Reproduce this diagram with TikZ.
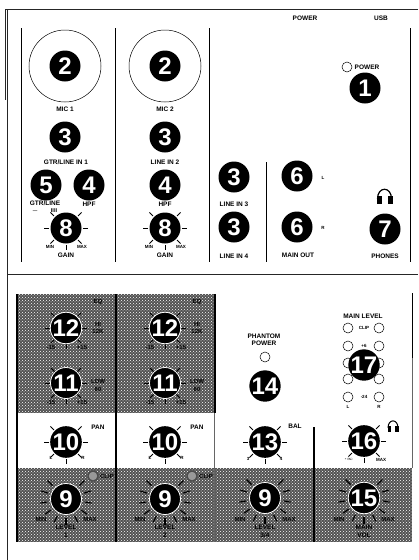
\documentclass[tikz,border=0pt]{standalone}
\usepackage{fontspec}
\setmainfont{Liberation Sans}
\usetikzlibrary{patterns,calc}
\tikzset{
 num/.style={circle,fill=black,minimum size=31pt,inner sep=0pt,text=white,font=\bfseries\fontsize{24}{24}\selectfont},
 numw/.style={num,draw=white,line width=0.8pt},
 lab/.style={inner sep=0pt,font=\bfseries\fontsize{6.5}{7.5}\selectfont,align=center,text=black},
 tiny/.style={inner sep=0pt,font=\bfseries\fontsize{4.5}{5}\selectfont,text=black},
 gtxt/.style={inner sep=0pt,font=\bfseries\fontsize{6}{6.5}\selectfont,text=black},
 led/.style={circle,draw=black,fill=white,line width=0.5pt,minimum size=10pt,inner sep=0pt},
 rule/.style={draw=black,line width=0.8pt},
 darkrule/.style={draw=black,line width=1.2pt},
 frameline/.style={draw=black!85,line width=1pt},
 graypanel/.style={fill=black!68},
 dotpanel/.style={pattern=crosshatch dots,pattern color=white},
}
\newcommand{\ticks}[3]{\foreach \a in {-135,-90,-45,0,45,90,135}{\draw[line width=0.9pt,black] ($(#1)+(90+\a:#2)$) -- ($(#1)+(90+\a:#3)$);}}
\newcommand{\bigticks}[1]{\foreach \a in {-135,-108,-81,-54,-27,0,27,54,81,108,135}{\draw[line width=1.1pt,black] ($(#1)+(90+\a:19)$) -- ($(#1)+(90+\a:26)$);}}
\begin{document}
\begin{tikzpicture}[x=1pt,y=-1pt]
\useasboundingbox (0,0) rectangle (418,560);
\fill[white] (0,0) rectangle (418,560);
% gray panels
\foreach \xa/\ya/\xb/\yb in {17/294/215/413,17/468/412/542}{
  \fill[graypanel] (\xa,\ya) rectangle (\xb,\yb);
  \fill[dotpanel] (\xa,\ya) rectangle (\xb,\yb);
}
% frame
\draw[frameline] (418,9) -- (5,9) -- (5,100);
\draw[frameline] (7.5,9) -- (7.5,560);
\draw[frameline] (8,274) -- (418,274);
% panel rules
\foreach \x/\ya/\yb in {21/28/262,115/28/262,209/28/262,266/162/262,410/28/262,412/293/358}{
  \draw[rule] (\x,\ya) -- (\x,\yb);
}
\foreach \x/\ya/\yb in {17/294/542,116/294/542,215/294/413,314/427/542}{
  \draw[darkrule] (\x,\ya) -- (\x,\yb);
}
\draw[draw=black!60,line width=0.6pt] (214,413) -- (214,542);
\draw[draw=black!60,line width=0.6pt] (412,358) -- (412,468);
% top section
\node[circle,draw=black,line width=0.5pt,minimum size=72pt,inner sep=0pt] (j1) at (65,66) {};
\node[circle,draw=black,line width=0.5pt,minimum size=72pt,inner sep=0pt] (j2) at (165,66) {};
\node[num] (n2a) at (65,66) {2};
\node[num] (n2b) at (165,66) {2};
\node[lab] (mic1) at (65,109) {MIC 1};
\node[lab] (mic2) at (165,109) {MIC 2};
\node[num] (n3a) at (65,137) {3};
\node[num] (n3b) at (165,137) {3};
\node[lab] (gtr) at (66,162.5) {GTR/LINE IN 1};
\node[lab] (l2) at (165,162.5) {LINE IN 2};
\node[num] (n5) at (46,185) {5};
\node[num] (n4a) at (89,185) {4};
\node[num] (n4b) at (165,185) {4};
\node[lab] (gl) at (45,203.5) {GTR/LINE};
\node[tiny] (gla) at (35,212) {---};
\node[tiny] (glb) at (54,211) {\fontsize{5.5}{6}\selectfont IIII};
\node[lab] (hpfa) at (89,204) {HPF};
\node[lab] (hpfb) at (165,204) {HPF};
\ticks{66,228}{17}{22}
\ticks{165,228}{17}{22}
\node[num] (n8a) at (66,228) {8};
\node[num] (n8b) at (165,228) {8};
\node[tiny] (mina) at (50,247) {MIN};
\node[tiny] (maxa) at (82,247) {MAX};
\node[tiny] (minb) at (149,247) {MIN};
\node[tiny] (maxb) at (181,247) {MAX};
\node[lab] (gaina) at (66,255) {GAIN};
\node[lab] (gainb) at (165,255) {GAIN};
\node[lab] (pw) at (305,18) {POWER};
\node[lab] (usb) at (381,18) {USB};
\node[led] (pled) at (347,67) {};
\node[lab] (pt) at (367,67) {POWER};
\node[num] (n1) at (365,88) {1};
\node[num] (n3c) at (234,177) {3};
\node[num] (n3d) at (234,227) {3};
\node[lab] (l3) at (234,204) {LINE IN 3};
\node[lab] (l4) at (234,256) {LINE IN 4};
\node[num] (n6a) at (297,176) {6};
\node[num] (n6b) at (297,227) {6};
\node[tiny] (ol) at (323,178) {L};
\node[tiny] (or) at (323,228) {R};
\node[lab] (mo) at (298,255) {MAIN OUT};
\node[num] (n7) at (385,229) {7};
\node[lab] (ph) at (385,256) {PHONES};
% headphones icon, top
\draw[line width=1.2pt] (377.5,199) .. controls (377.5,186) and (391.5,186) .. (391.5,199);
\fill (376.5,196) rectangle (381.5,204);
\fill (387.5,196) rectangle (392.5,204);
% lower: EQ
\foreach \x/\m in {66/a,165/b}{
  \ticks{\x,328}{16}{21}
  \ticks{\x,383}{16}{21}
  \ticks{\x,442}{17}{22}
  \node[numw] (n12\m) at (\x,328) {12};
  \node[numw] (n11\m) at (\x,383) {11};
  \node[num] (n10\m) at (\x,442) {10};
  \node[gtxt] (eq\m) at (\x+32,302) {EQ};
  \node[gtxt] (hi\m) at (\x+32,324) {HI};
  \node[gtxt] (hk\m) at (\x+32,331) {12K};
  \node[gtxt] (lo\m) at (\x+32,381) {LOW};
  \node[gtxt] (lh\m) at (\x+32,389) {80};
  \node[gtxt] (ma\m) at (\x-15,347) {-15};
  \node[gtxt] (mb\m) at (\x+16,347) {+15};
  \node[gtxt] (mc\m) at (\x-15,402) {-15};
  \node[gtxt] (md\m) at (\x+16,402) {+15};
  \node[tiny] (pl\m) at (\x-15,458) {L};
  \node[tiny] (pr\m) at (\x+17,458) {R};
  \node[lab] (pan\m) at (\x+32,427.5) {PAN};
  \bigticks{\x,499}
  \node[numw] (n9\m) at (\x,499) {9};
  \node[circle,draw=black!70,fill=black!40,line width=1.2pt,minimum size=10pt,inner sep=0pt] (cl\m) at (\x+27,476) {};
  \node[gtxt] (ct\m) at (\x+41,476) {CLIP};
  \node[gtxt] (mn\m) at (\x-25,519) {MIN};
  \node[gtxt] (mx\m) at (\x+24,519) {MAX};
  \node[lab] (lv\m) at (\x,527) {LEVEL};
}
\node[lab] (ch1) at (66,535) {1};
\node[lab] (ch2) at (165,535) {2};
\bigticks{265,498}
\bigticks{364,498}
\node[numw] (n9c) at (265,498) {9};
\node[numw] (n15) at (364,498) {15};
\node[gtxt] (mn3) at (240,519) {MIN};
\node[gtxt] (mx3) at (289,519) {MAX};
\node[gtxt] (mn4) at (339,519) {MIN};
\node[gtxt] (mx4) at (388,519) {MAX};
\node[lab] (lv3) at (265,527) {LEVEL};
\node[lab] (ch3) at (265,535) {3/4};
\node[lab] (mvt) at (364,527) {MAIN};
\node[lab] (mvb) at (364,535) {VOL};
% 13, 14, 16, 17
\node[lab] (phan) at (264,340) {PHANTOM\\POWER};
\node[led] (pl14) at (265,357) {};
\node[num] (n14) at (265,386) {14};
\ticks{265,442}{17}{22}
\ticks{364,441}{17}{22}
\node[num] (n13) at (265,442) {13};
\node[num] (n16) at (364,441) {16};
\node[lab] (bal) at (295,426) {BAL};
\node[tiny] (b3) at (248,459) {3};
\node[tiny] (b4) at (281,459) {4};
\node[tiny] (inf) at (349,459.5) {-$\infty$};
\node[tiny] (mx16) at (381,459.5) {MAX};
\draw[line width=1pt] (388,428) .. controls (388,418.5) and (398,418.5) .. (398,428);
\fill (387.5,426) rectangle (391,432);
\fill (395,426) rectangle (398.5,432);
\node[lab] (ml) at (363,316) {MAIN LEVEL};
\foreach \y/\k in {328/a,346/b,363/c,379/d,397/e}{
  \node[led] (ll\k) at (348,\y) {};
  \node[led] (lr\k) at (379,\y) {};
}
\node[tiny] (clip) at (364,328) {CLIP};
\node[tiny] (p6) at (364,346) {+6};
\node[tiny] (m12) at (364,379) {-12};
\node[tiny] (m24) at (364,397) {-24};
\node[tiny] (ml7) at (348,407) {L};
\node[tiny] (mr7) at (379,407) {R};
\node[num] (n17) at (364,365) {17};
\end{tikzpicture}
\end{document}
